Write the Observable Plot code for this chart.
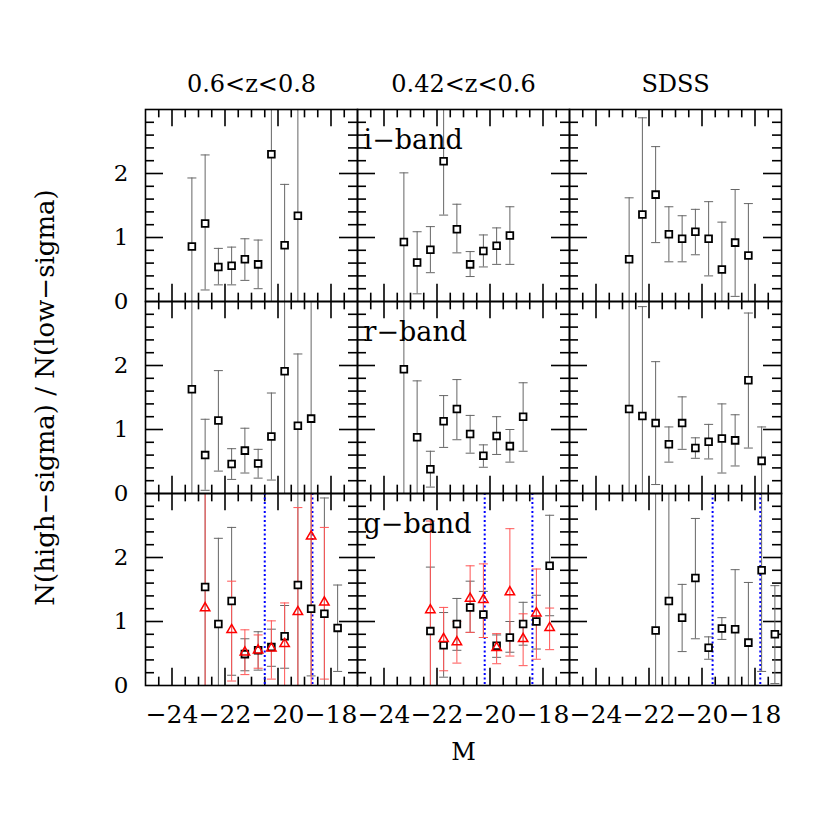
<!DOCTYPE html>
<html><head><meta charset="utf-8">
<script src="https://cdn.jsdelivr.net/npm/d3@7"></script>
<script src="https://cdn.jsdelivr.net/npm/@observablehq/plot@0.6"></script>
<style>body{margin:0;background:#fff;}</style>
</head><body><div id="chart"></div>
<script>
// Column (redshift / sample) and row (band) categories
const columns = ["0.6<z<0.8", "0.42<z<0.6", "SDSS"];
const bands = ["i-band", "r-band", "g-band"];
const bandLabels = ["i\u2212band", "r\u2212band", "g\u2212band"];
const yLabel = "N(high\u2212sigma) / N(low\u2212sigma)";
const xLabel = "M";
const xTickLabels = [-24, -22, -20, -18];
const yTickLabels = [0, 1, 2];

// Each entry: [M, ratio, lower error end, upper error end]  (3.5 = off the top)
const iHighZ = [[-23.25,0.86,0,1.93],[-22.75,1.22,0.18,2.29],[-22.25,0.54,0.26,0.83],[-21.75,0.56,0.26,0.85],[-21.25,0.66,0.33,0.98],[-20.75,0.58,0.20,0.96],[-20.25,2.30,0,3.5],[-19.75,0.88,0,1.83],[-19.25,1.34,0,3.5]];
const iMidZ = [[-23.25,0.93,0,2.01],[-22.75,0.61,0.12,1.09],[-22.25,0.81,0.45,1.17],[-21.75,2.19,1.35,3.5],[-21.25,1.13,0.76,1.52],[-20.75,0.58,0.39,0.78],[-20.25,0.79,0.54,1.04],[-19.75,0.87,0.58,1.15],[-19.25,1.03,0.58,1.48]];
const iSDSS = [[-22.75,0.66,0,1.62],[-22.25,1.36,0,2.87],[-21.75,1.67,0.92,2.42],[-21.25,1.05,0.62,1.48],[-20.75,0.98,0.62,1.34],[-20.25,1.09,0.73,1.44],[-19.75,0.98,0.40,1.56],[-19.25,0.50,0,1.24],[-18.75,0.92,0.08,1.75],[-18.25,0.72,0,1.53]];
const rHighZ = [[-23.25,1.63,0,3.5],[-22.75,0.60,0.05,1.16],[-22.25,1.14,0.35,1.92],[-21.75,0.46,0.22,0.70],[-21.25,0.67,0.32,1.02],[-20.75,0.47,0.24,0.69],[-20.25,0.89,0.21,1.57],[-19.75,1.91,0,3.5],[-19.25,1.06,0,2.18],[-18.75,1.17,0,3.5]];
const rMidZ = [[-23.25,1.94,0,3.5],[-22.75,0.88,0,1.76],[-22.25,0.38,0.10,0.66],[-21.75,1.13,0.72,1.53],[-21.25,1.32,0.84,1.78],[-20.75,0.93,0.63,1.22],[-20.25,0.59,0.41,0.76],[-19.75,0.90,0.61,1.20],[-19.25,0.74,0.49,1.00],[-18.75,1.20,0.66,1.73]];
const rSDSS = [[-22.75,1.32,0,3.5],[-22.25,1.21,0,2.92],[-21.75,1.10,0.14,2.06],[-21.25,0.77,0.49,1.04],[-20.75,1.10,0.69,1.51],[-20.25,0.71,0.55,0.87],[-19.75,0.81,0.54,1.08],[-19.25,0.86,0.32,1.40],[-18.75,0.83,0.43,1.23],[-18.25,1.77,0.71,2.82],[-17.75,0.51,0,1.04]];
const gHighZ = [[-22.75,1.54,0,3.5],[-22.25,0.96,0,2.30],[-21.75,1.32,0.16,2.47],[-21.25,0.49,0.23,0.73],[-20.75,0.55,0.24,0.84],[-20.25,0.60,0.30,0.88],[-19.75,0.77,0.27,1.25],[-19.25,1.57,0,3.5],[-18.75,1.20,0.15,3.5],[-18.25,1.12,0,2.93],[-17.75,0.90,0.22,1.57]];
const gMidZ = [[-22.25,0.85,0,1.85],[-21.75,0.63,0.13,1.14],[-21.25,0.96,0.55,1.36],[-20.75,1.22,0.83,1.63],[-20.25,1.11,0.75,1.47],[-19.75,0.62,0.44,0.79],[-19.25,0.75,0.52,1.00],[-18.75,0.96,0.63,1.30],[-18.25,1.00,0.57,1.41],[-17.75,1.87,1.09,2.66]];
const gSDSS = [[-21.75,0.86,0,3.5],[-21.25,1.32,0,3.5],[-20.75,1.06,0.53,1.58],[-20.25,1.68,0.73,2.61],[-19.75,0.59,0.41,0.76],[-19.25,0.89,0.72,1.06],[-18.75,0.88,0,1.81],[-18.25,0.67,0,1.61],[-17.75,1.80,0.22,3.5],[-17.25,0.80,0.03,1.56]];
// red triangles (g-band, second sample)
const gHighZTri = [[-22.75,1.21,0,3.5],[-21.75,0.87,0.07,1.63],[-21.25,0.52,0.17,0.87],[-20.75,0.55,0.27,0.79],[-20.25,0.58,0.10,1.01],[-19.75,0.65,0,1.29],[-19.25,1.15,0,2.78],[-18.75,2.33,0,3.5],[-18.25,1.30,0.10,2.47]];
const gMidZTri = [[-22.25,1.18,0,2.57],[-21.75,0.73,0.23,1.22],[-21.25,0.68,0.35,1.00],[-20.75,1.36,0.83,1.87],[-20.25,1.34,0.75,1.90],[-19.75,0.59,0.34,0.81],[-19.25,1.46,0.46,2.45],[-18.75,0.73,0.31,1.12],[-18.25,1.13,0.41,1.82],[-17.75,0.90,0.56,1.21]];
// blue dotted limits in g-band panels
const gHighZLimits = [-20.5, -18.7];
const gMidZLimits = [-20.2, -18.4];
const gSDSSLimits = [-19.6, -17.8];

const xMajor = [-24, -22, -20, -18];
const xMinor = d3.range(-24.5, -17.4, 0.5).filter(v => !xMajor.includes(v));
const yMajor = [1, 2];
const yMinor = d3.range(1, 15).map(i => i / 5).filter(v => !yMajor.includes(v));

function rows(arr, col, band) {
  return arr.map(([M, r, lo, hi]) => ({col, band, M, r, lo, hi}));
}
const squares = [
  ...rows(iHighZ, columns[0], bands[0]), ...rows(iMidZ, columns[1], bands[0]), ...rows(iSDSS, columns[2], bands[0]),
  ...rows(rHighZ, columns[0], bands[1]), ...rows(rMidZ, columns[1], bands[1]), ...rows(rSDSS, columns[2], bands[1]),
  ...rows(gHighZ, columns[0], bands[2]), ...rows(gMidZ, columns[1], bands[2]), ...rows(gSDSS, columns[2], bands[2])
];
const triangles = [...rows(gHighZTri, columns[0], bands[2]), ...rows(gMidZTri, columns[1], bands[2])];
const limits = [
  ...gHighZLimits.map(M => ({col: columns[0], band: bands[2], M})),
  ...gMidZLimits.map(M => ({col: columns[1], band: bands[2], M})),
  ...gSDSSLimits.map(M => ({col: columns[2], band: bands[2], M}))
];

const W = 830, H = 830, mL = 145, mR = 49, mT = 108, mB = 144;
const pw = (W - mL - mR) / 3, ph = (H - mT - mB) / 3;
const capSymbol = {draw(ctx, size) { const r = Math.sqrt(size / Math.PI); ctx.moveTo(-r, 0); ctx.lineTo(r, 0); }};
const grey = "#666", red = "#f55";
const majLen = 18, minLen = 9;
const tk = {stroke: "black", strokeWidth: 1.6};

const chart = Plot.plot({
  width: W, height: H,
  marginLeft: mL, marginRight: mR, marginTop: mT, marginBottom: mB,
  facet: {marginTop: 0, marginRight: 0, marginBottom: 0, marginLeft: 0},
  style: {fontFamily: "DejaVu Serif", fontSize: "22px", background: "white", color: "black"},
  x: {domain: [-25, -17]},
  y: {domain: [0, 3]},
  fx: {domain: columns, padding: 0},
  fy: {domain: bands, padding: 0, axis: null},
  marks: [
    // inward ticks on all sides
    Plot.tickX(xMajor, {x: d => d, insetTop: ph - majLen, ...tk}),
    Plot.tickX(xMajor, {x: d => d, insetBottom: ph - majLen, ...tk}),
    Plot.tickX(xMinor, {x: d => d, insetTop: ph - minLen, ...tk}),
    Plot.tickX(xMinor, {x: d => d, insetBottom: ph - minLen, ...tk}),
    Plot.tickY(yMajor, {y: d => d, insetRight: pw - majLen, ...tk}),
    Plot.tickY(yMajor, {y: d => d, insetLeft: pw - majLen, ...tk}),
    Plot.tickY(yMinor, {y: d => d, insetRight: pw - minLen, ...tk}),
    Plot.tickY(yMinor, {y: d => d, insetLeft: pw - minLen, ...tk}),
    // limits
    Plot.ruleX(limits, {x: "M", fx: "col", fy: "band", stroke: "blue", strokeWidth: 2, strokeDasharray: "2,2.5"}),
    // error bars
    Plot.ruleX(squares, {x: "M", y1: "lo", y2: "hi", fx: "col", fy: "band", stroke: grey, strokeWidth: 1, clip: true}),
    Plot.dot(squares.filter(d => d.lo > 0), {x: "M", y: "lo", fx: "col", fy: "band", symbol: capSymbol, r: 4.5, stroke: grey, strokeWidth: 1}),
    Plot.dot(squares.filter(d => d.hi < 3), {x: "M", y: "hi", fx: "col", fy: "band", symbol: capSymbol, r: 4.5, stroke: grey, strokeWidth: 1}),
    Plot.ruleX(triangles, {x: "M", y1: "lo", y2: "hi", fx: "col", fy: "band", stroke: red, strokeWidth: 1, clip: true}),
    Plot.dot(triangles.filter(d => d.lo > 0), {x: "M", y: "lo", fx: "col", fy: "band", symbol: capSymbol, r: 4.5, stroke: red, strokeWidth: 1}),
    Plot.dot(triangles.filter(d => d.hi < 3), {x: "M", y: "hi", fx: "col", fy: "band", symbol: capSymbol, r: 4.5, stroke: red, strokeWidth: 1}),
    // points
    Plot.dot(squares, {x: "M", y: "r", fx: "col", fy: "band", symbol: "square", r: 3.8, fill: "white", stroke: "black", strokeWidth: 1.8}),
    Plot.dot(triangles, {x: "M", y: "r", fx: "col", fy: "band", symbol: "triangle", r: 3.5, fill: "none", stroke: "red", strokeWidth: 1.5}),
    // band labels
    Plot.text(bands, {fx: () => columns[1], fy: d => d, text: (d, i) => bandLabels[i], frameAnchor: "top-left", textAnchor: "start", lineAnchor: "top", dx: 6, dy: 20, fontSize: 27}),
    // axis labels
    Plot.axisY({anchor: "left", ticks: yTickLabels, tickFormat: d => String(d), tickSize: 0, tickPadding: 17, fontSize: 23, label: null}),
    Plot.axisX({anchor: "bottom", ticks: xTickLabels, tickSize: 0, tickPadding: 20, fontSize: 25, label: null}),
    Plot.axisFx({anchor: "top", tickSize: 0, tickPadding: 18, fontSize: 24, label: null}),
    Plot.text([xLabel], {fx: () => columns[1], fy: () => bands[2], frameAnchor: "bottom", dy: 74, fontSize: 24}),
    Plot.text([yLabel], {fx: () => columns[0], fy: () => bands[1], frameAnchor: "left", textAnchor: "middle", dx: -100, rotate: -90, fontSize: 26}),
    Plot.frame({stroke: "black", strokeWidth: 1.6})
  ]
});
document.getElementById("chart").appendChild(chart);
</script></body></html>
